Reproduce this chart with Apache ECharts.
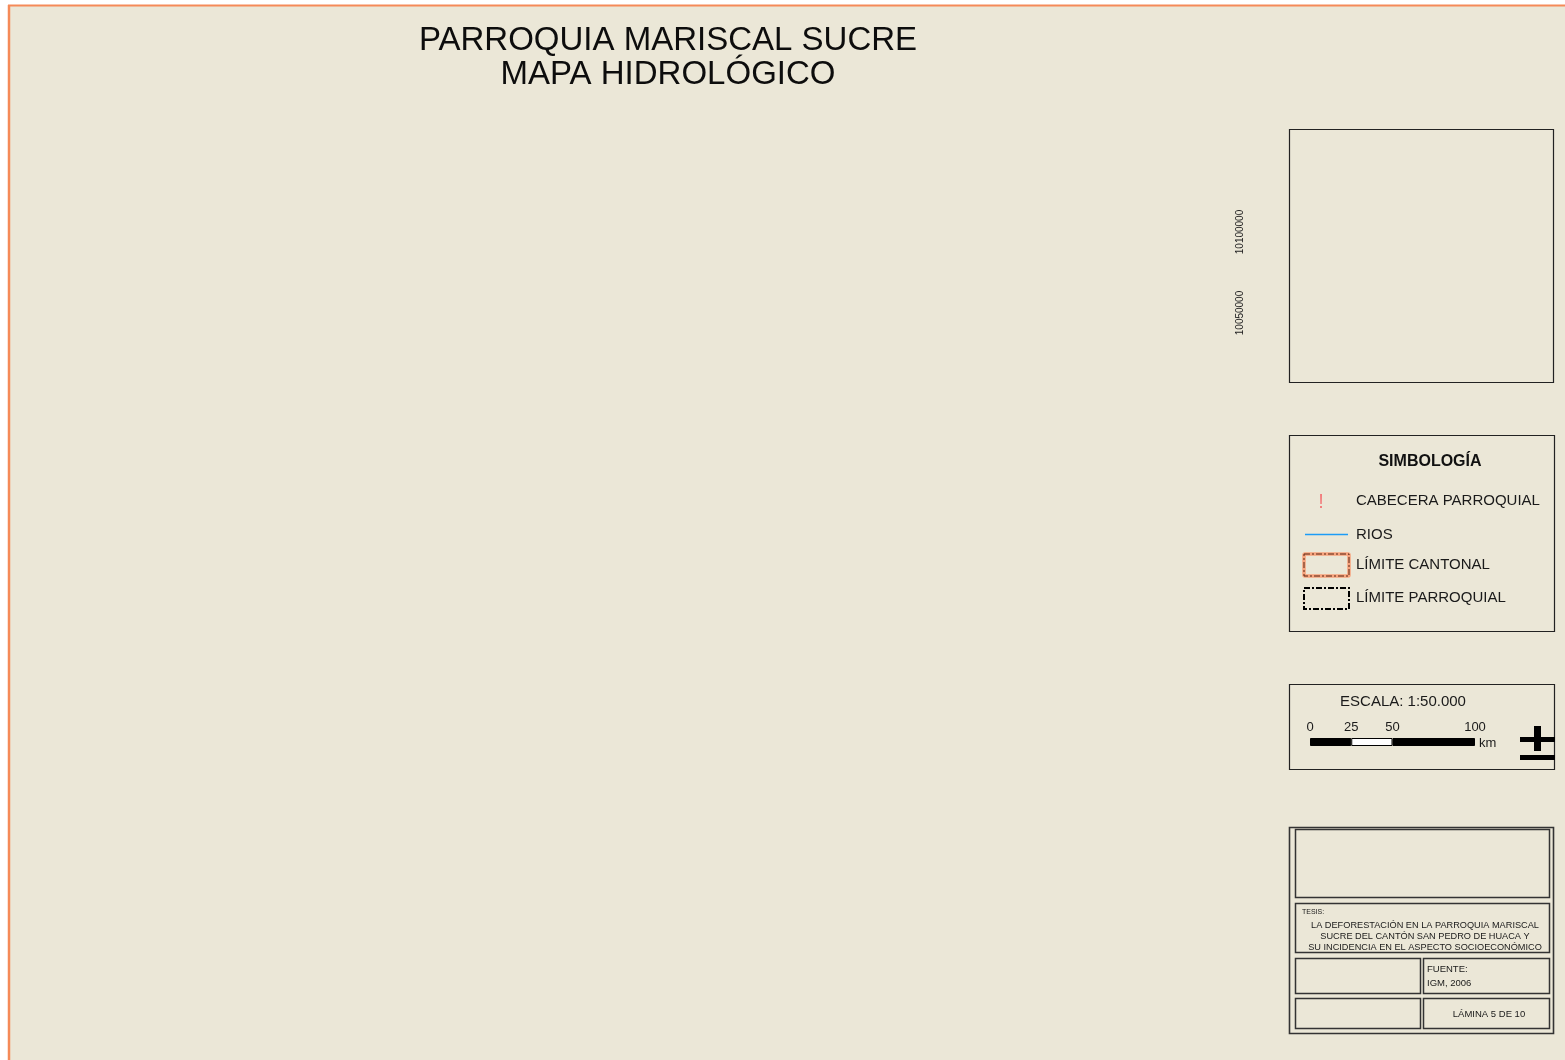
<!DOCTYPE html>
<html>
<head>
<meta charset="utf-8">
<title>Parroquia Mariscal Sucre - Mapa Hidrológico</title>
<script src="https://cdn.jsdelivr.net/npm/echarts@6/dist/echarts.min.js"></script>
<style>
  html, body { margin: 0; padding: 0; background: #ffffff; }
  #map { width: 1565px; height: 1060px; }
</style>
</head>
<body>
<div id="map"></div>
<script>
/* datos de la lámina */
var titleLines = ['PARROQUIA MARISCAL SUCRE', 'MAPA HIDROLÓGICO'];
var northingTicks = [10050000, 10100000];
var legendTitle = 'SIMBOLOGÍA';
var legendItems = ['CABECERA PARROQUIAL', 'RIOS', 'LÍMITE CANTONAL', 'LÍMITE PARROQUIAL'];
var scaleTitle = 'ESCALA: 1:50.000';
var scaleTicks = [0, 25, 50, 100];
var scaleSegments = [25, 25, 50];
var scaleColors = ['#000000', '#ffffff', '#000000'];
var thesisLines = [
  'LA DEFORESTACIÓN EN LA PARROQUIA MARISCAL',
  'SUCRE DEL CANTÓN SAN PEDRO DE HUACA Y',
  'SU INCIDENCIA EN EL ASPECTO SOCIOECONÓMICO'
];
var sourceLines = ['FUENTE:', 'IGM, 2006'];
var sheetLabel = 'LÁMINA 5 DE 10';

(function(){
  var FONT = "'Liberation Sans', Arial, sans-serif";
  var INK = '#1a1a1a';
  var myChart = echarts.init(document.getElementById('map'));

  function box(x, y, w, h, lw, color) {
    return {
      type: 'rect', silent: true,
      shape: { x: x, y: y, width: w, height: h },
      style: { fill: null, stroke: color || '#222', lineWidth: lw || 1 }
    };
  }
  function txt(s, x, y, size, align, weight, color) {
    return {
      type: 'text', silent: true, z: 10,
      style: {
        text: s, x: x, y: y,
        font: (weight || 'normal') + ' ' + size + 'px ' + FONT,
        fill: color || INK, align: align || 'left', verticalAlign: 'middle'
      }
    };
  }

  var g = [];
  // fondo y marco naranja
  g.push({ type: 'rect', silent: true, z: -10, shape: { x: 9, y: 6, width: 1560, height: 1060 }, style: { fill: '#ebe7d7' } });
  g.push({ type: 'line', silent: true, z: -9, shape: { x1: 9, y1: 5, x2: 9, y2: 1060 }, style: { stroke: '#f58a58', lineWidth: 2.5 } });
  g.push({ type: 'line', silent: true, z: -9, shape: { x1: 8, y1: 5.5, x2: 1565, y2: 5.5 }, style: { stroke: '#f58a58', lineWidth: 1.8 } });

  // título
  titleLines.forEach(function(s, i){
    g.push(txt(s, 668, 41 + i * 34, 33, 'center', 'normal', '#0d0d0d'));
  });

  // recuadro de ubicación
  g.push(box(1289.5, 129.5, 264, 253, 1.2));

  // simbología
  g.push(box(1289.5, 435.5, 265, 196, 1.2));
  g.push(txt(legendTitle, 1430, 462, 16, 'center', 'bold', '#111'));
  var itemY = [501, 535, 565, 598];
  legendItems.forEach(function(s, i){
    g.push(txt(s, 1356, itemY[i], 15, 'left'));
  });
  g.push(txt('!', 1321, 502, 20, 'center', 'normal', '#f27a7a'));
  g.push({ type: 'line', silent: true, shape: { x1: 1305, y1: 534.5, x2: 1348, y2: 534.5 }, style: { stroke: '#1c9cf6', lineWidth: 1.5 } });
  g.push({ type: 'rect', silent: true, shape: { x: 1304, y: 554, width: 45, height: 22, r: 1 }, style: { fill: null, stroke: '#f7a27c', lineWidth: 3.5 } });
  g.push({ type: 'rect', silent: true, shape: { x: 1304, y: 554, width: 45, height: 22 }, style: { fill: null, stroke: '#5a2614', lineWidth: 1, lineDash: [6, 2, 2, 2] } });
  g.push({ type: 'rect', silent: true, shape: { x: 1304, y: 588, width: 45, height: 21 }, style: { fill: null, stroke: '#000', lineWidth: 2, lineDash: [6, 2, 2, 2] } });

  // escala
  g.push(box(1289.5, 684.5, 265, 85, 1.2));
  g.push(txt(scaleTitle, 1403, 702, 15, 'center'));
  g.push(txt('km', 1479, 743, 13, 'left'));
  // flecha de norte (símbolo sin fuente)
  g.push({ type: 'rect', silent: true, z: 10, shape: { x: 1520, y: 737, width: 35, height: 5 }, style: { fill: '#000' } });
  g.push({ type: 'rect', silent: true, z: 10, shape: { x: 1534, y: 726, width: 7, height: 25 }, style: { fill: '#000' } });
  g.push({ type: 'rect', silent: true, z: 10, shape: { x: 1520, y: 755, width: 35, height: 5 }, style: { fill: '#000' } });

  // cajetín
  g.push(box(1289.5, 827.5, 264, 206, 1.6, '#333'));
  g.push(box(1295.5, 829.5, 254, 68, 1.5, '#333'));
  g.push(box(1295.5, 903.5, 254, 49, 1.5, '#333'));
  g.push(box(1295.5, 958.5, 125, 35, 1.5, '#333'));
  g.push(box(1423.5, 958.5, 126, 35, 1.5, '#333'));
  g.push(box(1295.5, 998.5, 125, 30, 1.5, '#333'));
  g.push(box(1423.5, 998.5, 126, 30, 1.5, '#333'));
  g.push(txt('TESIS:', 1302, 912, 7, 'left'));
  thesisLines.forEach(function(s, i){
    g.push(txt(s, 1425, 925 + i * 11, 9.2, 'center'));
  });
  sourceLines.forEach(function(s, i){
    g.push(txt(s, 1427, 969 + i * 14, 9.5, 'left'));
  });
  g.push(txt(sheetLabel, 1489, 1014, 9.5, 'center'));

  var option = {
    backgroundColor: '#ffffff',
    animation: false,
    grid: [
      { left: 1250, top: 232, width: 10, height: 81 },
      { left: 1310, top: 738, width: 165, height: 8 }
    ],
    xAxis: [
      { gridIndex: 0, type: 'value', show: false, min: 0, max: 1 },
      {
        gridIndex: 1, type: 'value', position: 'top', min: 0, max: 100, interval: 25,
        axisLine: { show: false }, axisTick: { show: false }, splitLine: { show: false },
        axisLabel: {
          margin: 4, fontSize: 13, color: INK, fontFamily: FONT,
          formatter: function(v){ return scaleTicks.indexOf(v) >= 0 ? String(v) : ''; }
        }
      }
    ],
    yAxis: [
      {
        gridIndex: 0, type: 'value', position: 'left',
        min: northingTicks[0], max: northingTicks[1], interval: 50000,
        axisLine: { show: false }, axisTick: { show: false }, splitLine: { show: false },
        axisLabel: {
          rotate: 90, margin: 5, fontSize: 10, color: '#222', fontFamily: FONT,
          formatter: function(v){ return String(v); }
        }
      },
      { gridIndex: 1, type: 'category', show: false, data: ['escala'] }
    ],
    series: [
      { type: 'line', xAxisIndex: 0, yAxisIndex: 0, data: [], silent: true }
    ].concat(scaleSegments.map(function(v, i){
      return {
        type: 'bar', xAxisIndex: 1, yAxisIndex: 1, stack: 'escala',
        barWidth: 8, silent: true, data: [v],
        itemStyle: { color: scaleColors[i], borderColor: '#000', borderWidth: 1 }
      };
    })),
    graphic: g
  };
  myChart.setOption(option);
})();
</script>
</body>
</html>
